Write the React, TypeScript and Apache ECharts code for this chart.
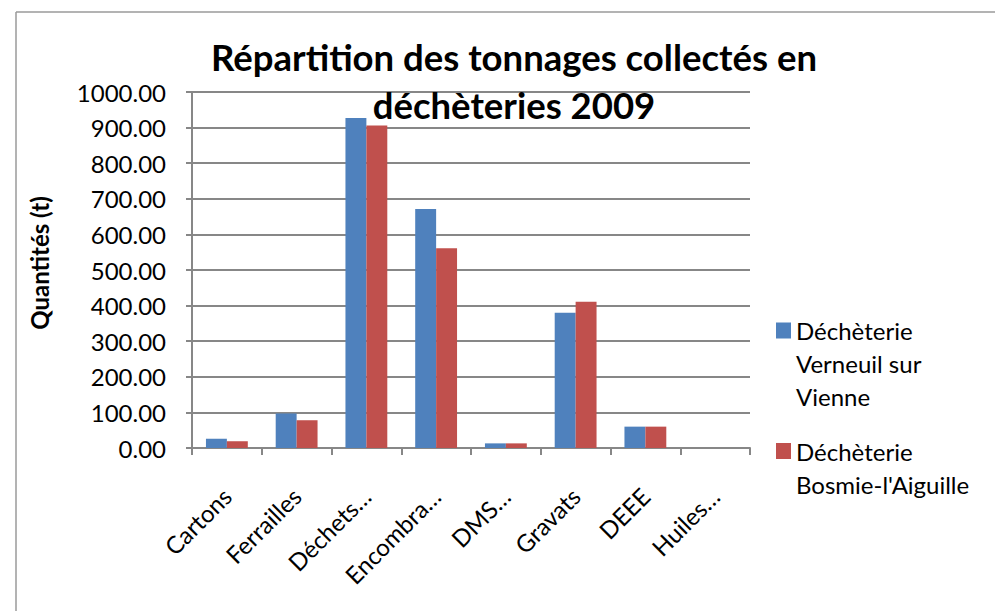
import React, { useEffect, useRef } from "react";
import * as echarts from "echarts";

const categories = ["Cartons", "Ferrailles", "Déchets…", "Encombra…", "DMS…", "Gravats", "DEEE", "Huiles…"];
const verneuil = [26, 97, 927, 671, 13, 380, 60, 0];
const bosmie = [19, 78, 906, 561, 13, 411, 60, 0];
const seriesNames = ["Déchèterie Verneuil sur Vienne", "Déchèterie Bosmie-l'Aiguille"];
const legendLabels = ["Déchèterie\nVerneuil sur\nVienne", "Déchèterie\nBosmie-l'Aiguille"];
const titleText = "Répartition des tonnages collectés en\ndéchèteries 2009";
const yAxisName = "Quantités (t)";

const FONT = "Lato, 'Open Sans', sans-serif";
const GRAY = "#878787";
const LH = 33;
const BOX = 99;
// square icon placed at the first text line inside a tall (invisible) box
const iconFor = (lines: number) => {
  const firstCenter = BOX / 2 - ((lines - 1) * LH) / 2;
  const top = firstCenter - 8;
  return `path://M0,${top}h15v16h-15z M0,0h0.01 M0,${BOX}h0.01`;
};

export default function App() {
  const ref = useRef<HTMLDivElement>(null);
  useEffect(() => {
    if (!ref.current) return;
    const chart = echarts.init(ref.current, null, { renderer: "svg" });
    chart.setOption({
      animation: false,
      backgroundColor: "#ffffff",
      textStyle: { fontFamily: FONT },
      title: {
        text: titleText,
        left: 509,
        top: 28,
        textAlign: "center",
        textStyle: { fontFamily: FONT, fontSize: 36.5, fontWeight: "bold", color: "#000", lineHeight: 48 },
      },
      legend: {
        orient: "vertical",
        left: 771,
        top: 309,
        itemWidth: 15,
        itemHeight: BOX,
        itemGap: 5,
        formatter: (name: string) => legendLabels[seriesNames.indexOf(name)],
        textStyle: { fontFamily: FONT, fontSize: 24, color: "#000", lineHeight: LH },
        data: [
          { name: seriesNames[0], icon: iconFor(3) },
          { name: seriesNames[1], icon: iconFor(2) },
        ],
      },
      grid: { left: 192, right: 245, top: 92, bottom: 163 },
      xAxis: {
        type: "category",
        data: categories,
        axisLine: { lineStyle: { color: GRAY, width: 2 } },
        axisTick: { show: true, length: 7, lineStyle: { color: GRAY, width: 2 } },
        axisLabel: { rotate: 45, fontFamily: FONT, fontSize: 24, color: "#000", margin: 44, interval: 0 },
      },
      yAxis: {
        type: "value",
        min: 0,
        max: 1000,
        interval: 100,
        name: yAxisName,
        nameLocation: "middle",
        nameRotate: 90,
        nameGap: 141,
        nameTextStyle: { fontFamily: FONT, fontSize: 24, fontWeight: "bold", color: "#000", padding: [0, 0, 0, 14] },
        axisLine: { show: true, lineStyle: { color: GRAY, width: 2 } },
        axisTick: { show: true, length: 6, lineStyle: { color: GRAY, width: 2 } },
        axisLabel: { fontFamily: FONT, fontSize: 24, color: "#000", margin: 26, formatter: (v: number) => v.toFixed(2) },
        splitLine: { show: true, lineStyle: { color: GRAY, width: 2 } },
      },
      series: [
        { name: seriesNames[0], type: "bar", data: verneuil, itemStyle: { color: "#4F81BD" }, barGap: "0%", barCategoryGap: "40%" },
        { name: seriesNames[1], type: "bar", data: bosmie, itemStyle: { color: "#C0504D" }, barGap: "0%", barCategoryGap: "40%" },
      ],
      graphic: [
        { type: "line", shape: { x1: 16, y1: 12, x2: 995, y2: 12 }, style: { stroke: "#9a9a9a", lineWidth: 1.5 }, silent: true },
        { type: "line", shape: { x1: 16, y1: 12, x2: 16, y2: 611 }, style: { stroke: "#9a9a9a", lineWidth: 1.5 }, silent: true },
      ],
    });
    return () => chart.dispose();
  }, []);
  return <div ref={ref} style={{ position: "absolute", left: 0, top: 0, width: 995, height: 611 }} />;
}
